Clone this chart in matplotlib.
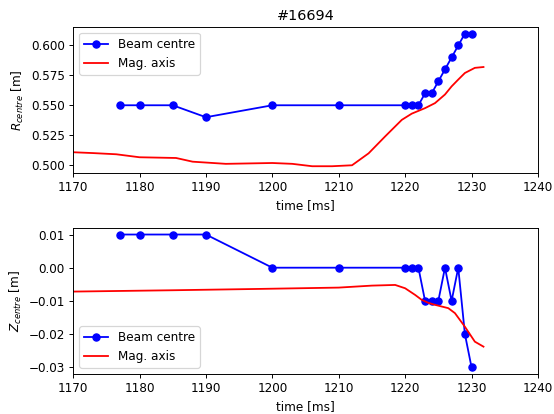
import matplotlib
matplotlib.use("Agg")
import matplotlib.pyplot as plt

# Beam centre data
beam_t = [1177, 1180, 1185, 1190, 1200, 1210, 1220, 1221, 1222, 1223, 1224, 1225, 1226, 1227, 1228, 1229, 1230]
beam_R = [0.55, 0.55, 0.55, 0.54, 0.55, 0.55, 0.55, 0.55, 0.55, 0.56, 0.56, 0.57, 0.58, 0.59, 0.60, 0.61, 0.61]
beam_Z = [0.01, 0.01, 0.01, 0.01, 0.0, 0.0, 0.0, 0.0, 0.0, -0.01, -0.01, -0.01, 0.0, -0.01, 0.0, -0.02, -0.03]

# Magnetic axis
mag_t_R = [1170, 1173, 1176.5, 1180, 1185.5, 1188, 1193, 1200, 1203, 1206, 1209, 1212,
           1214.5, 1217, 1219.5, 1221, 1223, 1224.5, 1226, 1227, 1228, 1229, 1230.5, 1231.8]
mag_R = [0.5107, 0.5100, 0.5090, 0.5065, 0.5059, 0.5028, 0.5010, 0.5017, 0.5010, 0.4990, 0.4990, 0.4998,
         0.5098, 0.5240, 0.5378, 0.5430, 0.5476, 0.5518, 0.5590, 0.5658, 0.5715, 0.5770, 0.5813, 0.5820]
mag_t_Z = [1170, 1185, 1198, 1210, 1215, 1218.5, 1220, 1221.5, 1222.5, 1223.5, 1224.5, 1226.5,
           1227.5, 1229, 1230.5, 1231.8]
mag_Z = [-0.0072, -0.0068, -0.0064, -0.0060, -0.0054, -0.0052, -0.0062, -0.0082, -0.0097, -0.0106, -0.0112, -0.0122,
         -0.0137, -0.0178, -0.0223, -0.0238]

DPI = 86.5
fig, (ax1, ax2) = plt.subplots(2, 1, figsize=(554 / DPI, 414 / DPI), dpi=DPI)
fig.subplots_adjust(left=0.132, right=0.971, top=0.935, bottom=0.097, hspace=0.377)

ax1.plot(beam_t, beam_R, 'bo-', label='Beam centre')
ax1.plot(mag_t_R, mag_R, 'r-', label='Mag. axis')
ax1.set_xlim(1170, 1240)
ax1.set_xlabel('time [ms]')
ax1.set_ylabel('$R_{centre}$ [m]')
ax1.set_title('#16694')
ax1.legend(loc='upper left')

ax2.plot(beam_t, beam_Z, 'bo-', label='Beam centre')
ax2.plot(mag_t_Z, mag_Z, 'r-', label='Mag. axis')
ax2.set_xlim(1170, 1240)
ax2.set_xlabel('time [ms]')
ax2.set_ylabel('$Z_{centre}$ [m]')
ax2.legend(loc='lower left')

fig.savefig('out.png', dpi=DPI)
